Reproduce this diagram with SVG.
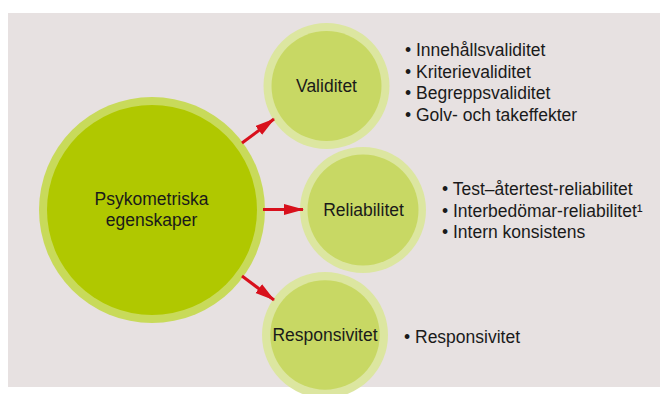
<svg xmlns="http://www.w3.org/2000/svg" width="660" height="394" viewBox="0 0 660 394">
  <style>
    text { font-family: "Liberation Sans", Arial, sans-serif; font-size: 17.5px; fill: #1a1a1a; }
    .c { text-anchor: middle; }
    .ring { fill: #dce6a0; }
    .core { fill: #c8d864; }
    .bigring { fill: #c8da5a; }
    .bigcore { fill: #b0c800; }
    .arrow { stroke: #d8101c; stroke-width: 3; fill: none; marker-end: url(#ah); }
  </style>
  <defs>
    <marker id="ah" markerUnits="userSpaceOnUse" markerWidth="20" markerHeight="12" refX="19" refY="5.5" orient="auto">
      <path d="M0,0 L20,5.5 L0,11 Z" fill="#d8101c"/>
    </marker>
  </defs>
  <rect x="8" y="13" width="652" height="374" fill="#e7e1e1"/>

  <g id="psykometriska">
    <circle cx="152" cy="210" r="113" class="bigring"/>
    <circle cx="152" cy="210" r="105" class="bigcore"/>
    <text x="151.5" y="205" class="c">Psykometriska</text>
    <text x="151.5" y="226" class="c">egenskaper</text>
  </g>

  <g id="validitet">
    <circle cx="326.5" cy="86" r="63" class="ring"/>
    <circle cx="326.5" cy="86" r="55" class="core"/>
    <text x="326.5" y="92" class="c">Validitet</text>
  </g>

  <g id="reliabilitet">
    <circle cx="363" cy="210" r="63" class="ring"/>
    <circle cx="363" cy="210" r="55.5" class="core"/>
    <text x="363.5" y="216" class="c">Reliabilitet</text>
  </g>

  <g id="responsivitet">
    <circle cx="325" cy="335" r="63" class="ring"/>
    <circle cx="325" cy="335" r="54.7" class="core"/>
    <text x="325" y="341" class="c">Responsivitet</text>
  </g>

  <g id="connectors">
    <line x1="242" y1="143" x2="274" y2="119" class="arrow"/>
    <line x1="263" y1="209.5" x2="303" y2="209.5" class="arrow"/>
    <line x1="242" y1="276" x2="274" y2="300" class="arrow"/>
  </g>

  <g id="validitet-list">
    <text x="405" y="56">• Innehållsvaliditet</text>
    <text x="405" y="77.5">• Kriterievaliditet</text>
    <text x="405" y="99">• Begreppsvaliditet</text>
    <text x="405" y="120.5">• Golv- och takeffekter</text>
  </g>

  <g id="reliabilitet-list">
    <text x="442" y="195">• Test–återtest-reliabilitet</text>
    <text x="442" y="216.5">• Interbedömar-reliabilitet¹</text>
    <text x="442" y="238">• Intern konsistens</text>
  </g>

  <g id="responsivitet-list">
    <text x="404" y="342.5">• Responsivitet</text>
  </g>
</svg>
